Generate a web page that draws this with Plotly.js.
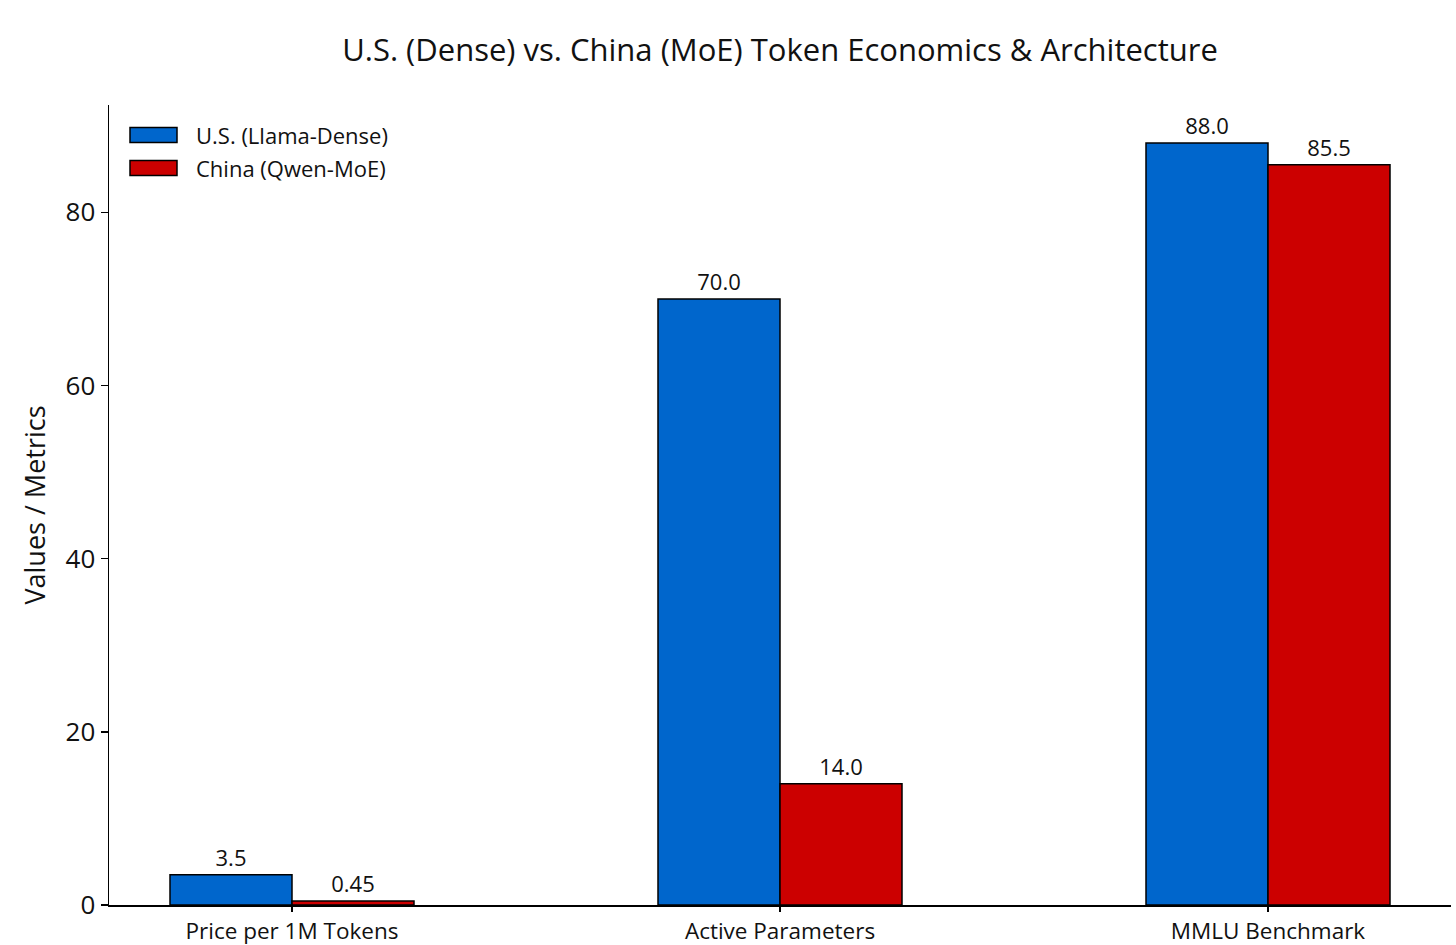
<!DOCTYPE html>
<html>
<head>
<meta charset="utf-8">
<script src="https://cdn.plot.ly/plotly-3.0.1.min.js"></script>
<style>
  html, body { margin: 0; padding: 0; background: #fff; }
  #chart { width: 1456px; height: 945px; }
</style>
</head>
<body>
<div id="chart"></div>
<script>
const categories = ["Price per 1M Tokens", "Active Parameters", "MMLU Benchmark"];
const usValues = [3.5, 70, 88];
const chinaValues = [0.45, 14, 85.5];
const seriesNames = ["U.S. (Llama-Dense)", "China (Qwen-MoE)"];
const seriesColors = ["#0066cc", "#cc0000"];
const yTicks = [0, 20, 40, 60, 80];

// matplotlib-style labels: whole numbers get one decimal
const fmt = v => Number.isInteger(v) ? v.toFixed(1) : String(v);

const FONT = "'Open Sans', Roboto, sans-serif";
const L = 109, R = 5, T = 105, B = 40;
const PW = 1456 - L - R, PH = 945 - T - B;

function barTrace(name, values, color) {
  return {
    type: "bar",
    name: name,
    x: [0, 1, 2],
    y: values,
    text: values.map(fmt),
    textposition: "outside",
    textfont: { size: 22, color: "#111" },
    cliponaxis: false,
    marker: { color: color, line: { color: "#000", width: 1.5 } },
    hoverinfo: "y",
    showlegend: false
  };
}

const data = [
  barTrace(seriesNames[0], usValues, seriesColors[0]),
  barTrace(seriesNames[1], chinaValues, seriesColors[1])
];

// legend drawn by hand so the swatches are wide rectangles like the original
const shapes = [];
const annotations = [];
seriesNames.forEach((name, i) => {
  const yc = 135 + i * 33;              // px from top of figure
  shapes.push({
    type: "rect", xref: "paper", yref: "paper",
    x0: (130 - L) / PW, x1: (177 - L) / PW,
    y0: (945 - B - yc - 7.5) / PH, y1: (945 - B - yc + 7.5) / PH,
    fillcolor: seriesColors[i], line: { color: "#000", width: 1.5 }
  });
  annotations.push({
    text: name, xref: "paper", yref: "paper",
    x: (194 - L) / PW, y: (945 - B - yc) / PH,
    xanchor: "left", yanchor: "middle", showarrow: false,
    font: { size: 22, color: "#111" }
  });
});

const layout = {
  width: 1456,
  height: 945,
  margin: { l: L, r: R, t: T, b: B },
  paper_bgcolor: "#fff",
  plot_bgcolor: "#fff",
  font: { family: FONT, size: 22, color: "#111" },
  barmode: "group",
  bargap: 0.5,
  bargroupgap: 0,
  showlegend: false,
  shapes: shapes,
  annotations: annotations,
  title: {
    text: "U.S. (Dense) vs. China (MoE) Token Economics &amp; Architecture",
    font: { size: 31, color: "#111" },
    x: 0.5, xref: "paper",
    y: 1 - 50 / 945, yref: "container", yanchor: "middle"
  },
  xaxis: {
    range: [-0.375, 2.375],
    tickvals: [0, 1, 2],
    ticktext: categories,
    showgrid: false,
    zeroline: false,
    showline: true,
    linecolor: "#000",
    linewidth: 1.5,
    ticks: "outside",
    ticklen: 5,
    tickwidth: 1.5,
    tickcolor: "#000",
    tickfont: { size: 22.5 }
  },
  yaxis: {
    range: [0, 92.4],
    tickvals: yTicks,
    showgrid: false,
    zeroline: false,
    showline: true,
    linecolor: "#000",
    linewidth: 1.5,
    ticks: "outside",
    ticklen: 7,
    tickwidth: 1.5,
    tickcolor: "#000",
    tickfont: { size: 26 },
    title: { text: "Values / Metrics", font: { size: 27 }, standoff: 12 }
  }
};

Plotly.newPlot("chart", data, layout, { displayModeBar: false, staticPlot: true });
</script>
</body>
</html>
